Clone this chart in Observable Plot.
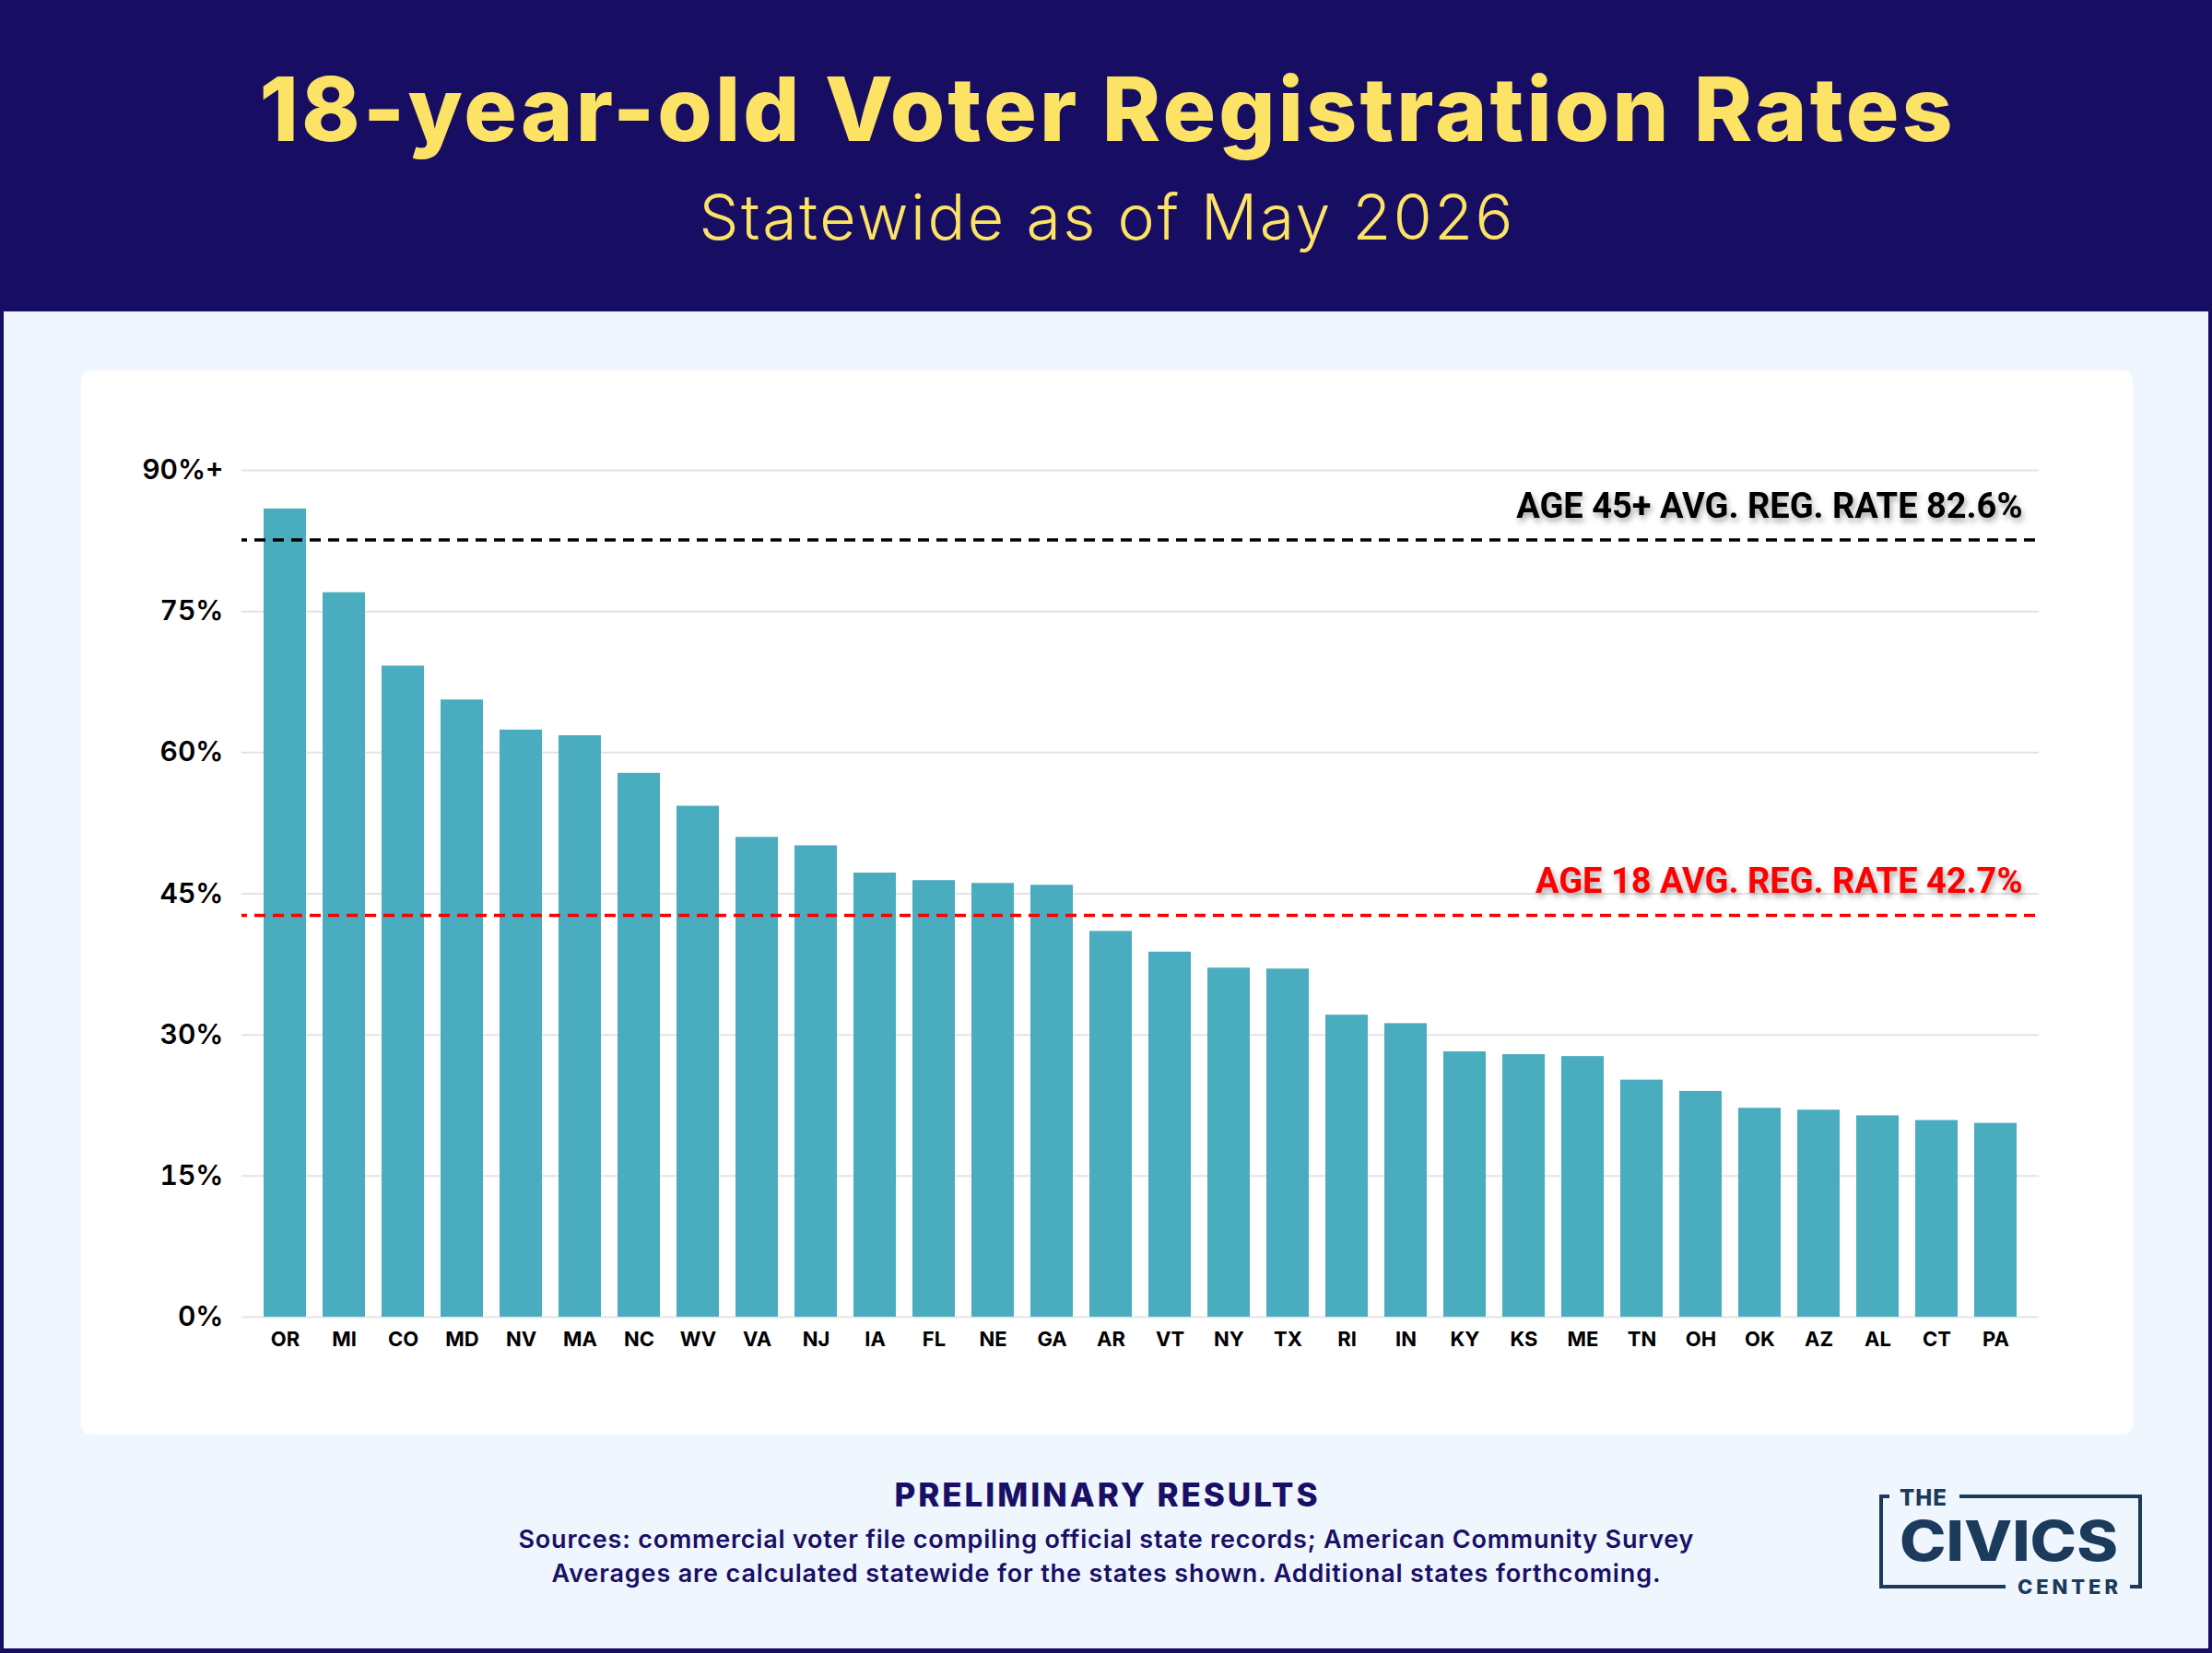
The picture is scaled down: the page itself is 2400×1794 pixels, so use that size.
<!DOCTYPE html>
<html>
<head>
<meta charset="utf-8">
<script src="https://cdn.jsdelivr.net/npm/d3@7"></script>
<script src="https://cdn.jsdelivr.net/npm/@observablehq/plot@0.6"></script>
<style>
  html, body { margin: 0; padding: 0; }
  body { width: 2400px; height: 1794px; position: relative; overflow: hidden; background: #eff6fe; font-family: Inter, "Noto Sans", sans-serif; }
  #deco { position: absolute; left: 0; top: 0; }
  #card { position: absolute; left: 88px; top: 402px; width: 2226px; height: 1155px; background: #ffffff; border-radius: 10px; }
  #chart { position: absolute; left: 88px; top: 402px; width: 2226px; height: 1155px; }
  #chart g[aria-label="text"] text { filter: drop-shadow(2px 4px 3px rgba(0,0,0,0.35)); }
</style>
</head>
<body>
<svg id="deco" width="2400" height="1794" xmlns="http://www.w3.org/2000/svg">
  <rect x="0" y="0" width="2400" height="338" fill="#170d63"/>
  <rect x="0" y="0" width="4" height="1794" fill="#170d63"/>
  <rect x="2396" y="0" width="4" height="1794" fill="#170d63"/>
  <rect x="0" y="1789" width="2400" height="5" fill="#170d63"/>
  <text x="1200" y="153" text-anchor="middle" font-family="Inter" font-weight="800" font-size="96" fill="#fce265" textLength="1837" lengthAdjust="spacing">18-year-old Voter Registration Rates</text>
  <text x="1200" y="260" text-anchor="middle" font-family="Inter" font-weight="300" font-size="68" fill="#fce265" textLength="883" lengthAdjust="spacing">Statewide as of May 2026</text>
  <text x="1200" y="1635" text-anchor="middle" font-family="Inter" font-weight="800" font-size="35" fill="#1a0f66" textLength="459" lengthAdjust="spacing">PRELIMINARY RESULTS</text>
  <text x="1200" y="1680" text-anchor="middle" font-family="Inter" font-weight="600" font-size="27" fill="#1a0f66" textLength="1275" lengthAdjust="spacing">Sources: commercial voter file compiling official state records; American Community Survey</text>
  <text x="1200" y="1717" text-anchor="middle" font-family="Inter" font-weight="600" font-size="27" fill="#1a0f66" textLength="1203" lengthAdjust="spacing">Averages are calculated statewide for the states shown. Additional states forthcoming.</text>
  <g fill="none" stroke="#1b3a5c" stroke-width="4">
    <polyline points="2050,1624 2041,1624 2041,1722 2176,1722"/>
    <polyline points="2126,1624 2322,1624 2322,1722 2311,1722"/>
  </g>
  <g fill="#1b3a5c" font-family="Inter" font-weight="800">
    <text x="2061" y="1634" font-size="24" textLength="51" lengthAdjust="spacing">THE</text>
    <text x="2061" y="1694" font-size="60" textLength="237" lengthAdjust="spacingAndGlyphs">CIVICS</text>
    <text x="2189" y="1730" font-size="22" textLength="109" lengthAdjust="spacing">CENTER</text>
  </g>
</svg>
<div id="card"></div>
<div id="chart"></div>
<script>
const states = ["OR","MI","CO","MD","NV","MA","NC","WV","VA","NJ","IA","FL","NE","GA","AR","VT","NY","TX","RI","IN","KY","KS","ME","TN","OH","OK","AZ","AL","CT","PA"];
const rates = [85.9, 77.0, 69.2, 65.6, 62.4, 61.8, 57.8, 54.3, 51.0, 50.1, 47.2, 46.4, 46.1, 45.9, 41.0, 38.8, 37.1, 37.0, 32.1, 31.2, 28.2, 27.9, 27.7, 25.2, 24.0, 22.2, 22.0, 21.4, 20.9, 20.6];
const yTicks = [0, 15, 30, 45, 60, 75, 90];
const yTickLabels = ["0%", "15%", "30%", "45%", "60%", "75%", "90%+"];
const refValues = [82.6, 42.7];
const refLabels = ["AGE 45+ AVG. REG. RATE 82.6%", "AGE 18 AVG. REG. RATE 42.7%"];
const refColors = ["#000000", "#ff0000"];

const data = states.map((s, i) => ({state: s, rate: rates[i]}));
const refs = refValues.map((v, i) => ({v, label: refLabels[i], color: refColors[i]}));

const chart = Plot.plot({
  width: 2226,
  height: 1155,
  marginLeft: 174,
  marginRight: 102,
  marginTop: 108,
  marginBottom: 128,
  style: {background: "transparent", fontFamily: "Inter, sans-serif", color: "#000", overflow: "visible"},
  x: {domain: states, paddingInner: 0.28, paddingOuter: 0.14, insetLeft: 15, insetRight: 15, label: null},
  y: {domain: [0, 90], label: null},
  color: {type: "identity"},
  marks: [
    Plot.gridY(yTicks, {stroke: "#e4e4e4", strokeOpacity: 1, strokeWidth: 2}),
    Plot.barY(data, {x: "state", y: "rate", fill: "#49acbf"}),
    Plot.ruleY(refs, {y: "v", stroke: "color", strokeWidth: 3.5, strokeDasharray: "12,8", strokeDashoffset: 6}),
    Plot.text(refs, {y: "v", text: "label", fill: "color", frameAnchor: "right", textAnchor: "end", lineAnchor: "bottom", dx: -18, dy: -24, fontSize: 38, fontWeight: 700, fontFamily: "Roboto"}),
    Plot.axisY(yTicks, {tickSize: 0, tickPadding: 20, tickFormat: d => yTickLabels[yTicks.indexOf(d)], fontSize: 30, fontWeight: 600, label: null}),
    Plot.axisX({tickSize: 0, tickPadding: 16, fontSize: 22, fontWeight: 700, label: null})
  ]
});
document.getElementById("chart").appendChild(chart);
</script>
</body>
</html>
